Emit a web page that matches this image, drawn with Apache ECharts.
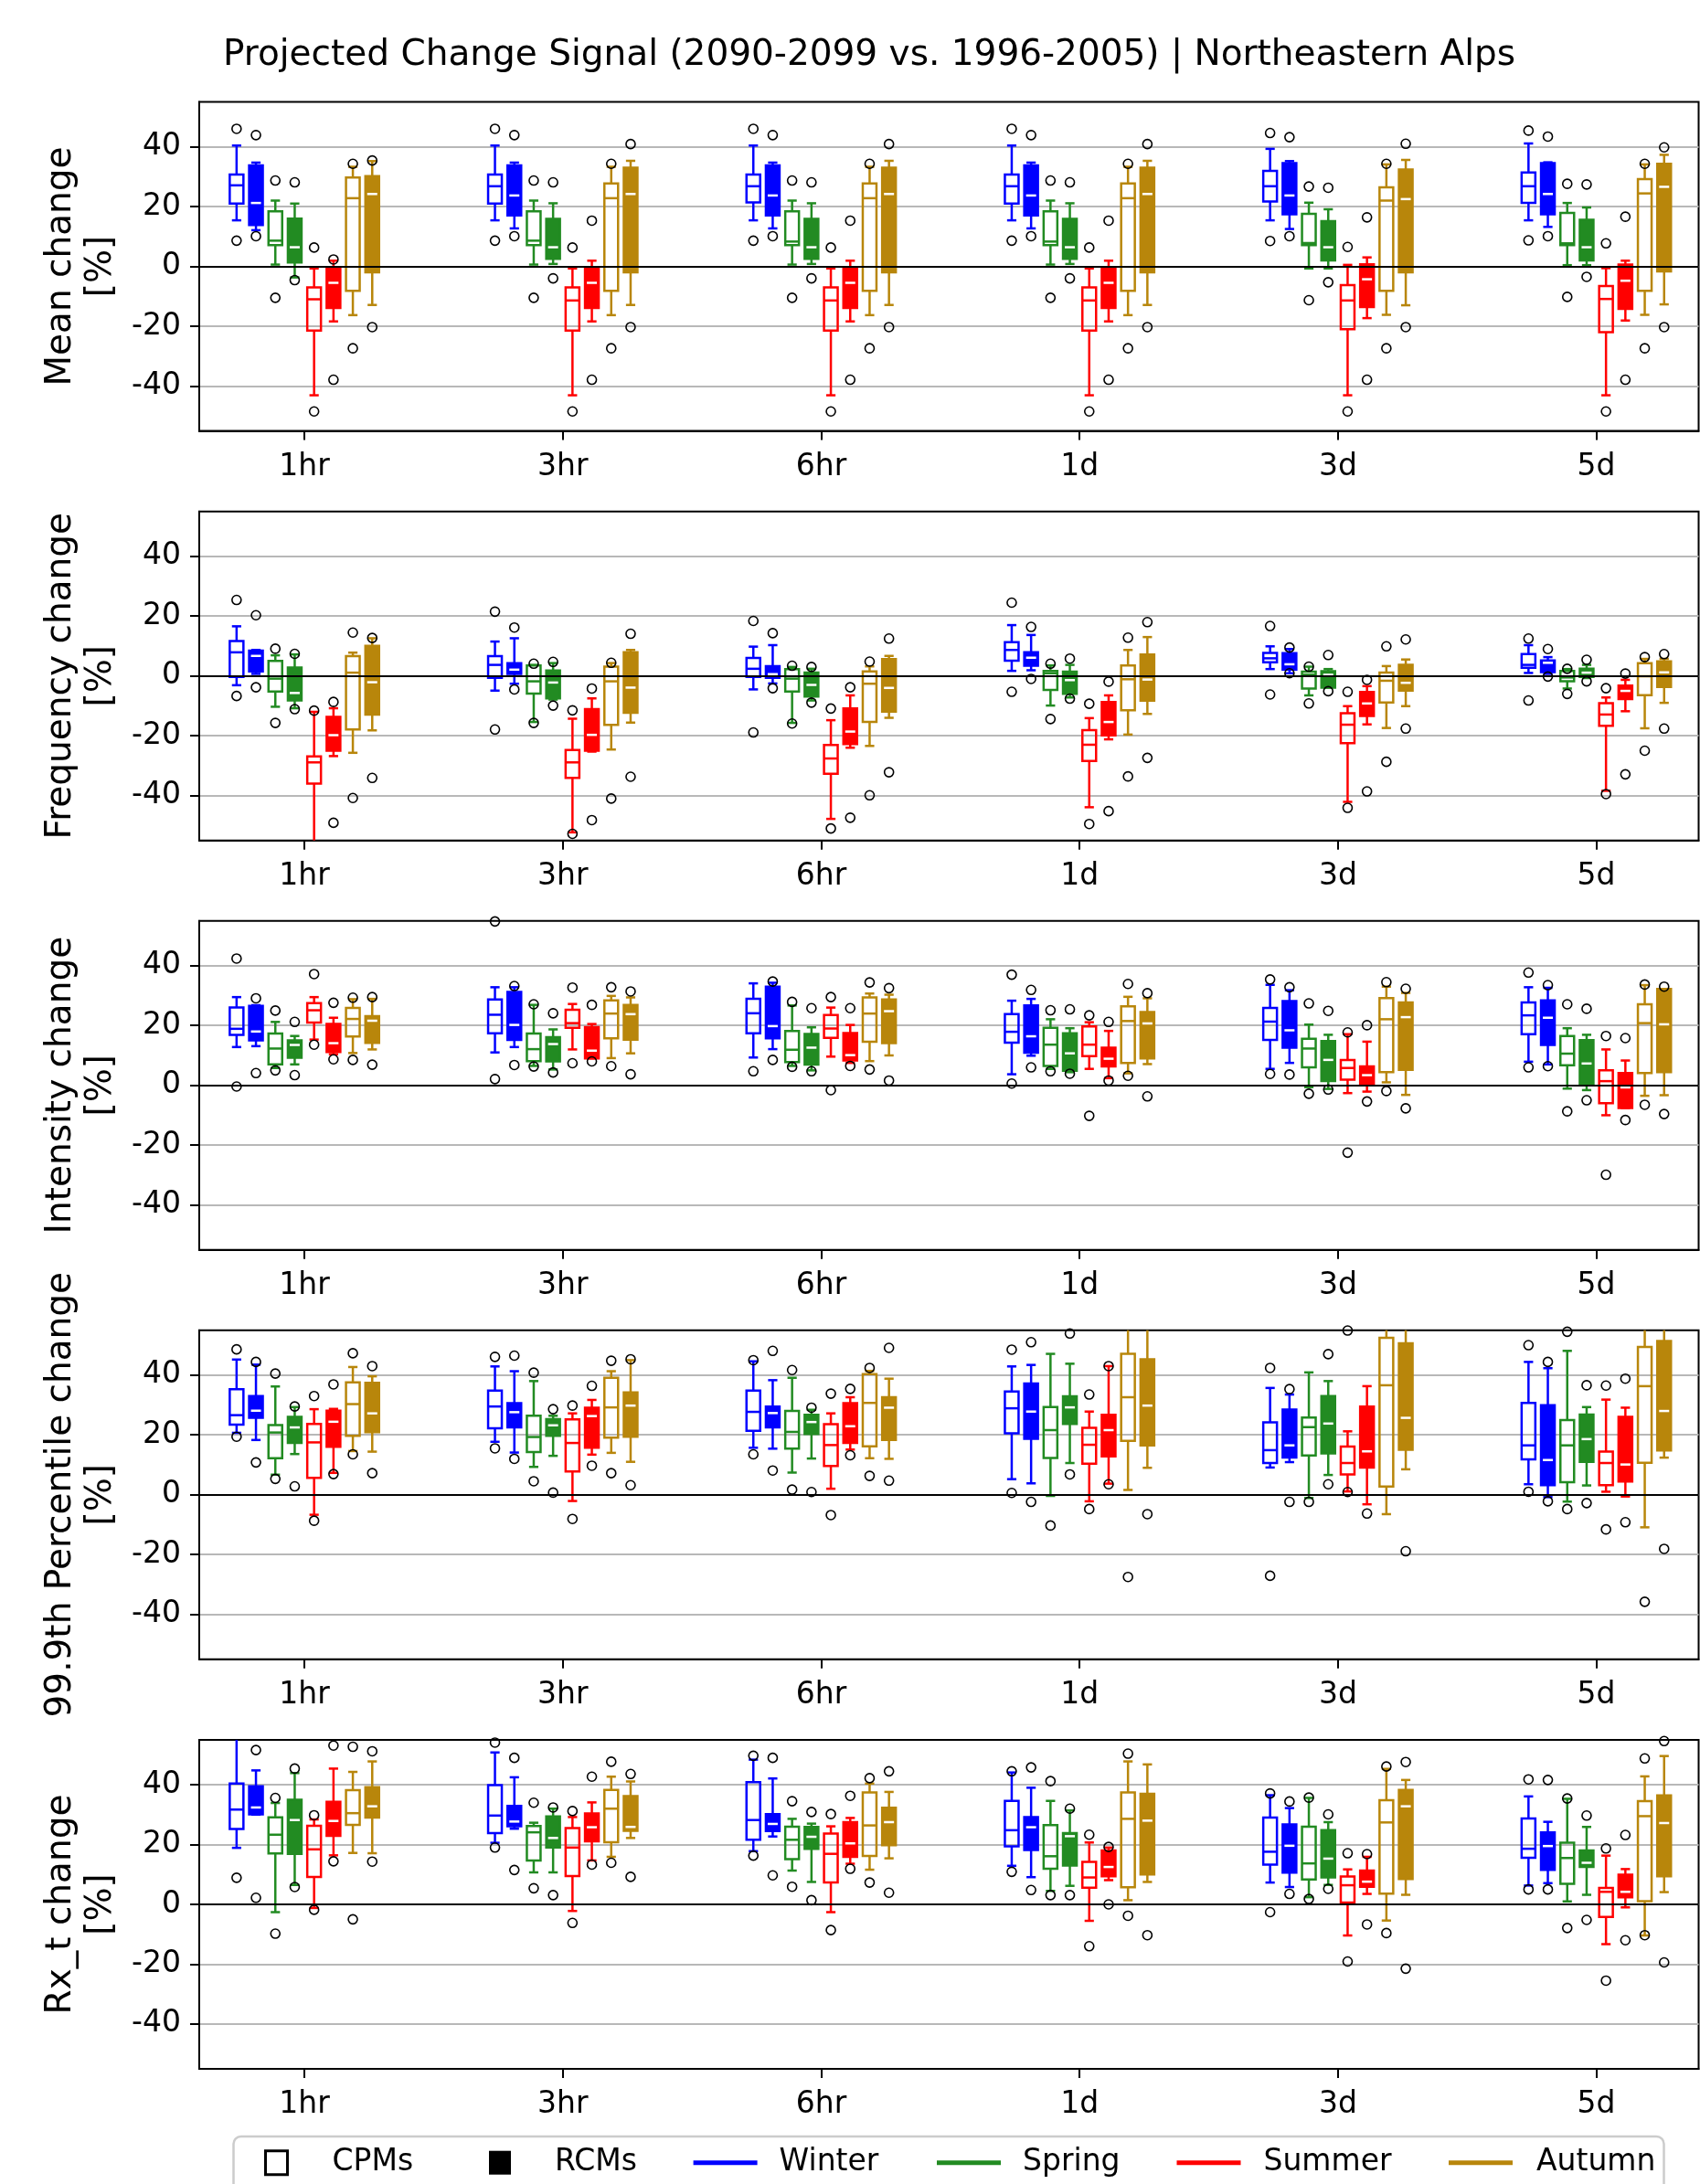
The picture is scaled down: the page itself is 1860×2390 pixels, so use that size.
<!DOCTYPE html>
<html>
<head>
<meta charset="utf-8">
<script src="https://cdn.jsdelivr.net/npm/echarts@6/dist/echarts.min.js"></script>
<style>html,body{margin:0;padding:0;background:#fff;}#chart{width:1860px;height:2390px;}</style>
</head>
<body>
<div id="chart"></div>
<script>
// ---------------- DATA ----------------
const TITLE = 'Projected Change Signal (2090-2099 vs. 1996-2005) | Northeastern Alps';
const DURATIONS = ['1hr', '3hr', '6hr', '1d', '3d', '5d'];
const SEASONS = ['Winter', 'Spring', 'Summer', 'Autumn'];
const MODELS = ['CPMs', 'RCMs'];
const Y_TICKS = [-40, -20, 0, 20, 40];
const Y_LABELS = ['Mean change\n[%]', 'Frequency change\n[%]', 'Intensity change\n[%]', '99.9th Percentile change\n[%]', 'Rx_t change\n[%]'];
// each row (one per duration): [whisker low, q1, median, q3, whisker high, ...outliers]

// Mean change
const mean_cpm_winter = [[15.4,21.0,27.1,30.7,40.4,46.0,8.6],[15.4,21.0,26.8,30.7,40.4,46.0,8.6],[15.4,21.4,26.8,30.7,40.4,46.0,8.6],[15.4,21.0,26.8,30.7,40.4,46.0,8.6],[15.4,21.7,26.8,31.9,39.3,44.6,8.5],[15.4,21.2,26.8,31.4,41.1,45.4,8.7]];
const mean_rcm_winter = [[12.1,13.8,21.2,33.8,34.7,43.9,10.1],[12.7,17.0,23.7,33.8,34.7,43.9,10.1],[12.7,17.0,23.7,33.8,34.7,43.9,10.1],[12.7,17.0,23.7,33.8,34.7,43.9,10.1],[12.5,17.4,23.7,34.5,35.2,43.2,10.1],[13.2,17.4,24.2,34.5,34.8,43.4,10.1]];
const mean_cpm_spring = [[0.6,7.1,8.6,18.4,22.0,28.7,-10.5],[0.6,7.1,8.6,18.4,22.0,28.7,-10.5],[0.6,7.1,8.3,18.4,22.0,28.7,-10.5],[0.6,7.1,8.3,18.4,22.0,28.7,-10.5],[-0.7,7.1,7.8,17.6,21.3,26.7,-11.3],[0.4,7.1,7.7,17.9,21.2,27.6,-10.2]];
const mean_rcm_spring = [[-3.7,1.3,6.4,16.0,21.0,28.1,-4.6],[0.8,2.5,6.4,15.9,21.1,28.1,-4.0],[0.8,2.5,6.4,15.9,21.1,28.1,-4.0],[0.8,2.5,6.4,15.9,21.1,28.1,-4.0],[-0.7,2.0,6.4,15.1,19.1,26.3,-5.3],[0.4,2.0,6.4,15.6,19.7,27.4,-3.5]];
const mean_cpm_summer = [[-43.1,-21.5,-11.0,-7.0,-0.7,6.3,-48.5],[-43.1,-21.5,-11.4,-7.0,-0.7,6.3,-48.5],[-43.1,-21.5,-11.4,-7.0,-0.7,6.3,-48.5],[-43.1,-21.5,-11.4,-7.0,-0.7,6.3,-48.5],[-43.1,-21.0,-11.4,-6.3,0.5,6.5,-48.5],[-43.1,-22.0,-10.9,-6.6,-0.6,7.7,-48.5]];
const mean_rcm_summer = [[-18.4,-13.9,-5.5,-0.2,1.9,2.3,-37.9],[-18.4,-13.9,-5.5,-0.2,1.9,15.3,-37.9],[-18.4,-13.9,-5.5,-0.2,1.9,15.3,-37.9],[-18.4,-13.9,-5.5,-0.2,1.9,15.3,-37.9],[-17.3,-13.6,-4.3,0.7,3.0,16.4,-37.9],[-18.1,-14.2,-4.8,0.6,1.9,16.6,-37.9]];
const mean_cpm_autumn = [[-16.3,-8.2,22.8,29.7,33.3,34.3,-27.4],[-16.3,-8.2,22.8,27.7,33.3,34.3,-27.4],[-16.3,-8.2,22.8,27.7,33.3,34.3,-27.4],[-16.3,-8.2,22.8,27.7,33.3,34.3,-27.4],[-16.2,-8.2,22.0,26.4,34.1,34.3,-27.4],[-16.2,-8.2,24.4,29.2,34.1,34.3,-27.4]];
const mean_rcm_autumn = [[-12.9,-2.0,24.2,30.2,35.2,35.4,-20.3],[-12.9,-2.0,24.2,33.0,35.3,40.9,-20.3],[-12.9,-2.0,24.2,33.0,35.3,40.9,-20.3],[-12.9,-2.0,24.2,33.0,35.3,40.9,-20.3],[-13.0,-2.0,22.5,32.4,35.6,41.0,-20.3],[-12.7,-1.7,26.6,34.3,37.3,39.8,-20.3]];

// Frequency change
const freq_cpm_winter = [[-3.1,-0.3,7.9,11.7,16.6,25.4,-6.7],[-4.9,-0.6,3.7,6.6,11.5,21.5,-17.9],[-4.5,-0.3,2.4,6.0,9.8,18.4,-18.9],[1.7,5.1,8.7,11.3,17.0,24.5,-5.3],[2.3,4.6,5.9,7.7,9.9,16.7,-6.2],[1.0,2.7,3.7,7.3,10.3,12.5,-8.2]];
const freq_rcm_winter = [[0.7,1.5,6.7,8.5,8.7,20.3,-3.8],[-2.6,0.7,2.1,4.3,12.6,16.2,-4.5],[-2.5,-0.6,0.6,3.3,10.3,14.3,-4.1],[1.9,3.4,6.1,7.9,13.7,16.4,-1.0],[0.9,2.1,3.9,7.6,9.0,9.5,0.9],[0.7,1.3,4.4,5.2,6.3,9.0,-0.2]];
const freq_cpm_spring = [[-10.3,-5.2,-0.9,5.0,6.9,9.1,-15.7],[-15.4,-5.9,-1.8,3.5,3.7,4.1,-15.7],[-15.7,-5.2,-0.9,2.3,3.0,3.4,-15.9],[-9.9,-4.7,0.9,1.7,3.5,4.1,-14.4],[-6.5,-4.2,0.4,1.4,3.1,3.1,-9.2],[-4.2,-1.8,-0.5,1.7,2.3,2.4,-6.0]];
const freq_rcm_spring = [[-10.8,-8.2,-5.7,2.8,7.2,7.4,-11.1],[-7.9,-7.5,-2.2,1.8,4.3,4.7,-9.9],[-8.2,-6.9,-3.0,1.1,2.4,3.0,-8.9],[-7.2,-6.0,-1.4,1.4,3.7,5.8,-7.6],[-3.9,-3.9,0.4,1.6,2.3,7.0,-5.1],[-0.7,-0.3,1.1,2.4,3.7,5.4,-1.8]];
const freq_cpm_summer = [[-58.0,-36.0,-28.9,-26.9,-12.0,-11.6],[-52.3,-34.1,-28.9,-24.8,-14.3,-11.5,-52.8],[-47.8,-32.7,-27.6,-23.1,-14.8,-10.9,-51.0],[-43.9,-28.4,-23.0,-18.1,-14.1,-9.3,-49.5],[-42.1,-22.5,-16.3,-12.5,-10.1,-5.3,-44.1],[-38.4,-16.7,-12.9,-9.1,-7.2,-4.1,-39.5]];
const freq_rcm_summer = [[-26.8,-25.0,-19.8,-13.7,-10.8,-8.7,-49.1],[-25.3,-25.0,-19.7,-11.1,-7.5,-4.2,-48.2],[-24.0,-22.8,-18.6,-10.9,-6.5,-3.8,-47.4],[-21.2,-19.9,-15.4,-8.7,-6.5,-1.9,-45.2],[-16.2,-13.4,-9.2,-5.4,-3.4,-1.3,-38.6],[-11.8,-7.7,-5.0,-3.2,-1.3,0.8,-32.9]];
const freq_cpm_autumn = [[-25.7,-17.9,1.1,6.6,7.8,14.5,-40.8],[-24.6,-16.4,-1.8,3.1,4.3,4.4,-41.0],[-23.4,-15.4,-2.6,1.5,3.2,4.8,-39.9],[-19.6,-11.5,-1.1,3.5,8.7,12.8,-33.6],[-17.4,-8.9,-1.6,1.1,3.3,9.9,-28.7],[-17.5,-6.4,-0.1,4.3,5.7,6.3,-25.0]];
const freq_rcm_autumn = [[-18.2,-12.9,-2.1,10.1,12.6,12.7,-34.1],[-15.6,-12.3,-3.9,7.9,8.7,14.1,-33.7],[-14.0,-11.9,-4.0,5.6,6.7,12.5,-32.2],[-12.7,-8.3,-1.2,7.2,13.0,18.0,-27.4],[-10.1,-4.9,-2.3,3.7,5.5,12.2,-17.6],[-9.0,-3.7,1.2,4.9,5.7,7.3,-17.6]];

// Intensity change
const int_cpm_winter = [[12.8,16.9,18.9,26.0,29.5,42.4,-0.4],[11.0,17.4,23.6,28.7,32.8,54.8,2.1],[9.3,17.4,24.1,28.9,34.1,4.7],[3.7,14.3,17.9,23.8,28.3,37.0,0.6],[5.5,15.2,21.3,25.9,33.6,35.4,3.8],[7.9,17.1,23.4,27.7,32.8,37.7,6.0]];
const int_rcm_winter = [[13.1,15.0,18.0,26.6,26.8,29.1,4.1],[12.8,15.2,20.2,31.2,32.8,33.2,6.8],[12.1,15.7,19.8,33.0,34.3,34.7,8.5],[9.9,10.9,16.4,26.7,28.9,31.9,6.0],[7.5,12.6,18.4,28.2,31.8,32.8,3.6],[7.0,13.5,22.6,28.4,32.6,33.5,6.4]];
const int_cpm_spring = [[5.8,7.0,12.3,17.3,21.2,25.0,5.0],[6.5,8.1,12.1,17.3,26.9,27.1,6.3],[6.5,7.8,11.9,18.2,26.7,27.9,6.2],[5.5,6.5,13.6,19.2,22.1,25.1,4.7],[-0.6,6.0,12.3,15.6,20.3,27.4,-2.8],[-1.1,6.7,10.6,16.5,19.1,27.1,-8.7]];
const int_rcm_spring = [[7.0,9.2,13.5,15.0,16.5,21.2,3.4],[5.3,8.0,13.8,16.1,18.7,24.1,4.3],[5.0,6.9,12.6,17.2,19.4,25.8,4.7],[4.4,4.9,10.7,17.4,19.1,25.4,3.9],[-1.2,1.4,8.5,14.8,16.9,24.9,-1.4],[-1.6,0.6,7.3,15.1,16.9,25.6,-5.0]];
const int_cpm_summer = [[15.3,21.0,25.1,27.5,29.5,37.2,13.6],[12.0,19.2,20.8,25.3,27.2,32.7,7.4],[9.6,15.9,19.0,23.5,26.0,29.5,-1.6],[5.5,9.8,13.6,19.7,21.1,23.4,-10.2],[-2.6,1.9,5.8,8.5,17.1,17.7,-22.5],[-10.0,-6.0,1.4,5.0,12.0,16.5,-29.9]];
const int_rcm_summer = [[10.4,11.1,14.1,20.5,22.6,27.6,8.7],[9.0,9.0,11.6,19.5,20.5,26.9,8.0],[7.5,8.3,10.1,17.5,20.2,25.8,6.5],[2.4,6.3,8.9,12.6,18.2,21.2,1.6],[-2.1,0.6,3.4,6.3,14.6,20.1,-5.4],[-7.6,-7.6,-0.7,4.1,8.3,15.8,-11.6]];
const int_cpm_autumn = [[10.8,16.3,22.2,25.9,28.8,29.3,8.5],[9.1,15.7,24.0,28.4,29.9,32.8,6.4],[8.1,14.6,24.0,29.4,30.7,34.4,5.3],[4.0,7.5,21.5,26.4,29.6,33.9,3.2],[1.0,4.4,22.1,29.2,33.0,34.5,-1.9],[-3.5,4.1,20.8,27.1,33.5,33.7,-6.5]];
const int_rcm_autumn = [[12.0,14.2,21.6,23.1,28.9,29.5,6.9],[10.7,15.3,23.8,26.9,29.4,31.4,3.7],[10.0,14.1,24.8,28.7,30.3,32.5,1.6],[7.1,9.0,20.7,24.5,29.1,30.8,-3.7],[-3.2,5.2,22.8,27.7,30.9,32.3,-7.7],[-3.3,4.4,20.4,32.2,32.2,33.0,-9.6]];

// 99.9th percentile change
const p999_cpm_winter = [[20.7,23.4,26.6,35.3,45.2,48.6,19.4],[17.7,22.2,29.5,34.8,42.9,46.1,15.5],[15.7,21.4,27.7,34.8,44.6,45.0,13.5],[5.2,20.5,28.9,34.5,42.9,48.5,0.6],[9.1,10.6,14.9,24.2,35.7,42.4,-27.1],[3.5,11.8,16.5,30.7,44.4,50.0,1.0]];
const p999_rcm_winter = [[18.3,25.7,28.1,33.0,43.5,44.4,10.8],[14.1,22.5,27.6,30.6,41.3,46.5,12.0],[15.4,22.5,27.3,29.5,38.3,48.1,8.1],[3.8,18.7,27.8,37.2,43.4,51.0,-2.4],[10.9,12.4,16.5,28.5,33.5,35.3,-2.4],[-0.8,3.2,11.6,29.9,42.3,44.4,-2.2]];
const p999_cpm_spring = [[6.7,12.2,20.8,23.3,36.2,40.5,5.3],[9.3,14.3,19.3,26.4,38.0,40.8,4.5],[7.4,15.4,21.0,28.0,39.1,41.7,1.7],[-0.4,12.3,21.6,29.3,47.1,-10.3],[-1.1,13.1,22.6,25.8,40.9,-2.4],[-2.3,4.2,16.5,25.0,48.1,54.5,-4.8]];
const p999_rcm_spring = [[13.6,17.3,22.5,26.0,29.3,29.5,2.8],[13.0,19.7,23.2,25.3,26.4,28.6,0.7],[12.1,20.3,24.3,26.7,28.4,29.1,0.9],[10.6,23.7,29.2,32.9,43.8,53.9,6.8],[6.6,13.8,23.8,33.0,38.0,47.0,3.5],[3.1,11.0,18.6,26.8,29.3,36.6,-2.8]];
const p999_cpm_summer = [[-6.7,5.6,17.5,23.7,28.6,33.0,-8.7],[-2.1,7.8,17.3,25.2,27.2,29.8,-8.1],[2.0,9.6,16.6,23.6,27.2,33.8,-6.8],[-2.2,10.4,16.7,22.4,27.8,33.5,-4.8],[1.1,6.8,10.6,16.1,21.2,54.9,0.9],[1.0,3.2,10.6,14.4,31.8,36.5,-11.6]];
const p999_rcm_summer = [[7.3,16.0,24.4,28.1,28.7,36.9,6.9],[13.4,15.7,26.3,29.1,31.7,36.4,9.7],[15.1,17.3,22.9,30.6,32.6,35.4,13.2],[3.7,12.8,21.6,26.7,43.0,43.0,3.5],[-3.2,9.1,14.5,29.5,36.3,-6.3],[-0.6,4.4,10.1,26.0,29.1,38.8,-9.2]];
const p999_cpm_autumn = [[14.6,19.7,30.3,37.6,42.7,47.3,13.5],[14.0,19.1,29.2,39.1,41.3,44.8,7.2],[12.2,16.2,30.7,40.3,41.4,42.4,6.3],[1.6,18.0,32.6,47.1,60.0,-27.5],[-6.5,2.7,36.6,52.5,60.0],[-10.9,10.7,36.3,49.4,60.0,-35.8]];
const p999_rcm_autumn = [[14.4,20.9,27.2,37.4,39.6,43.0,7.2],[11.0,19.4,29.8,34.2,45.0,45.3,3.2],[12.0,18.3,29.1,32.6,38.8,49.1,4.7],[9.0,16.5,29.8,45.3,60.0,-6.5],[8.5,15.0,25.7,50.6,60.0,-18.9],[12.4,14.8,28.0,51.4,60.0,-18.1]];

// Rx_t change
const rx_cpm_winter = [[18.9,25.2,31.7,40.4,58.0,8.9],[20.6,23.8,29.7,39.9,50.8,54.1,19.0],[17.8,21.6,28.2,40.9,48.4,49.7,16.3],[12.9,19.4,24.8,34.6,44.1,44.5,10.9],[7.3,13.3,17.6,29.0,36.5,37.1,-2.6],[6.3,15.6,18.6,28.7,36.1,41.8,5.0]];
const rx_rcm_winter = [[30.0,30.1,32.4,39.5,44.8,51.6,2.2],[25.3,26.1,27.7,32.9,42.5,49.0,11.5],[22.7,24.5,26.9,30.2,42.1,49.0,9.7],[9.1,18.2,25.8,29.2,39.0,45.8,4.8],[5.8,10.6,19.6,26.7,32.2,34.4,3.5],[7.1,11.5,19.5,24.1,27.6,41.6,5.0]];
const rx_cpm_spring = [[-2.6,17.0,23.3,29.1,33.9,35.6,-9.8],[10.7,14.7,24.1,26.2,27.3,34.0,5.4],[11.3,15.1,21.6,26.0,28.6,34.5,5.9],[4.5,11.9,16.1,26.5,34.6,41.2,3.1],[2.4,8.3,13.7,26.0,35.6,35.7,1.8],[1.0,6.9,15.5,20.6,35.3,35.4,-7.9]];
const rx_rcm_spring = [[6.5,16.9,28.2,35.0,43.9,45.4,5.8],[10.7,19.0,22.2,29.4,32.0,32.4,3.1],[7.5,18.6,22.6,25.9,27.0,30.9,1.4],[6.2,13.0,22.8,23.8,31.4,32.0,3.1],[6.5,9.0,15.3,24.8,27.5,30.1,5.2],[3.2,12.5,13.9,18.0,25.9,29.7,-5.2]];
const rx_cpm_summer = [[-1.2,9.2,18.4,26.3,28.4,29.8,-1.8],[-2.2,9.5,19.0,25.5,29.2,31.2,-6.2],[-2.6,7.3,16.9,23.7,26.1,30.2,-8.6],[-5.5,5.6,9.0,14.2,20.7,23.3,-14.0],[-10.4,0.6,6.4,9.3,11.7,17.1,-19.1],[-13.3,-4.2,4.2,5.5,16.3,18.7,-25.5]];
const rx_rcm_summer = [[16.4,22.9,27.9,34.3,45.4,53.1,14.4],[14.7,21.1,25.8,30.4,34.1,42.7,13.3],[13.6,15.9,20.4,27.5,28.9,36.3,11.9],[8.1,9.4,12.5,18.0,19.0,19.2,0.0],[3.5,5.9,7.6,11.3,15.9,16.8,-6.7],[-1.0,2.4,4.2,9.9,11.8,23.2,-12.0]];
const rx_cpm_autumn = [[17.2,26.6,30.5,38.2,44.3,52.7,-5.0],[15.9,20.8,32.0,38.3,42.7,47.7,13.9],[11.6,16.2,26.4,37.4,40.4,42.2,7.3],[1.4,5.7,28.6,37.4,47.8,50.4,-3.8],[-5.4,3.6,27.4,34.8,45.3,46.1,-9.6],[-10.4,1.1,29.5,34.5,42.8,48.8,-10.3]];
const rx_rcm_autumn = [[17.1,29.0,32.8,39.2,47.8,51.2,14.3],[22.2,24.6,25.9,36.2,41.1,43.6,9.2],[15.4,19.8,27.5,32.3,37.6,44.5,3.9],[7.5,10.0,28.0,37.0,46.8,-10.3],[3.2,8.5,32.8,38.3,41.6,47.6,-21.5],[4.1,9.4,27.2,36.4,49.6,54.6,-19.4]];

// ---------------- STYLE / LAYOUT ----------------
const FONT = 'DejaVu Sans';
const COLORS = ['#0000ff', '#228b22', '#ff0000', '#b8860b'];
const OFFSETS = [-0.2625, -0.1875, -0.1125, -0.0375, 0.0375, 0.1125, 0.1875, 0.2625];
const BOX_W = 0.053, CAP_W = 0.036, LW = 2.5;
const TOPS = [111.5, 559.7, 1007.7, 1455.7, 1904];
const PANEL_BOXES = [
  [mean_cpm_winter, mean_rcm_winter, mean_cpm_spring, mean_rcm_spring, mean_cpm_summer, mean_rcm_summer, mean_cpm_autumn, mean_rcm_autumn],
  [freq_cpm_winter, freq_rcm_winter, freq_cpm_spring, freq_rcm_spring, freq_cpm_summer, freq_rcm_summer, freq_cpm_autumn, freq_rcm_autumn],
  [int_cpm_winter, int_rcm_winter, int_cpm_spring, int_rcm_spring, int_cpm_summer, int_rcm_summer, int_cpm_autumn, int_rcm_autumn],
  [p999_cpm_winter, p999_rcm_winter, p999_cpm_spring, p999_rcm_spring, p999_cpm_summer, p999_rcm_summer, p999_cpm_autumn, p999_rcm_autumn],
  [rx_cpm_winter, rx_rcm_winter, rx_cpm_spring, rx_rcm_spring, rx_cpm_summer, rx_rcm_summer, rx_cpm_autumn, rx_rcm_autumn]
];

function makeRender(color, filled) {
  return function (params, api) {
    const cs = params.coordSys;
    const top = cs.y, bot = cs.y + cs.height;
    const clampY = y => Math.max(top, Math.min(bot, y));
    const x = api.value(0);
    const cx = api.coord([x, 0])[0];
    const yv = i => api.coord([x, api.value(i)])[1];
    const yLo = yv(1), yQ1 = yv(2), yMed = yv(3), yQ3 = yv(4), yHi = yv(5);
    const bw = api.size([BOX_W, 0])[0];
    const cw = api.size([CAP_W, 0])[0];
    const st = {stroke: color, lineWidth: LW};
    const ch = [];
    ch.push({type: 'line', shape: {x1: cx, y1: clampY(yQ3), x2: cx, y2: clampY(yHi)}, style: st});
    ch.push({type: 'line', shape: {x1: cx, y1: clampY(yQ1), x2: cx, y2: clampY(yLo)}, style: st});
    if (yHi >= top && yHi <= bot) ch.push({type: 'line', shape: {x1: cx - cw / 2, y1: yHi, x2: cx + cw / 2, y2: yHi}, style: st});
    if (yLo >= top && yLo <= bot) ch.push({type: 'line', shape: {x1: cx - cw / 2, y1: yLo, x2: cx + cw / 2, y2: yLo}, style: st});
    const bt = clampY(yQ3), bb = clampY(yQ1);
    ch.push({type: 'rect', shape: {x: cx - bw / 2, y: bt, width: bw, height: bb - bt},
      style: {fill: filled ? color : 'none', stroke: color, lineWidth: LW}});
    const inset = filled ? 2 : 0;
    if (yMed >= top && yMed <= bot) ch.push({type: 'line', shape: {x1: cx - bw / 2 + inset, y1: yMed, x2: cx + bw / 2 - inset, y2: yMed},
      style: {stroke: filled ? '#ffffff' : color, lineWidth: LW}});
    return {type: 'group', children: ch};
  };
}

const grids = [], xAxes = [], yAxes = [], series = [];
PANEL_BOXES.forEach((boxes, p) => {
  grids.push({left: 218, top: TOPS[p], width: 1640.5, height: 360, show: true, borderColor: '#000', borderWidth: 2,
    backgroundColor: 'transparent', containLabel: false, outerBoundsMode: 'none'});
  xAxes.push({gridIndex: p, type: 'value', min: -0.407, max: 5.396,
    axisLine: {show: true, onZero: false, lineStyle: {color: '#000', width: 2}},
    splitLine: {show: false},
    axisTick: {show: true, customValues: [0, 1, 2, 3, 4, 5], length: 10, lineStyle: {color: '#000', width: 2}},
    axisLabel: {show: true, customValues: [0, 1, 2, 3, 4, 5], formatter: v => DURATIONS[Math.round(v)], fontSize: 33, color: '#000', fontFamily: FONT, margin: 23}});
  yAxes.push({gridIndex: p, type: 'value', min: -55, max: 55,
    name: Y_LABELS[p], nameLocation: 'middle', nameRotate: 90, nameGap: 77,
    nameTextStyle: {fontSize: 39, lineHeight: 44, color: '#000', fontFamily: FONT, align: 'center'},
    axisLine: {show: true, onZero: false, lineStyle: {color: '#000', width: 2}},
    axisTick: {show: true, customValues: Y_TICKS, length: 10, lineStyle: {color: '#000', width: 2}},
    axisLabel: {show: true, customValues: Y_TICKS, fontSize: 33, color: '#000', fontFamily: FONT, margin: 20},
    splitLine: {show: true, lineStyle: {color: '#b8b8b8', width: 2.2}}});
  const outliers = [];
  boxes.forEach((rows, k) => {
    const color = COLORS[Math.floor(k / 2)];
    const filled = k % 2 === 1;
    const data = rows.map((r, g) => [g + OFFSETS[k], r[0], r[1], r[2], r[3], r[4]]);
    rows.forEach((r, g) => r.slice(5).forEach(v => outliers.push([g + OFFSETS[k], v])));
    series.push({type: 'custom', name: SEASONS[Math.floor(k / 2)] + ' ' + MODELS[k % 2], xAxisIndex: p, yAxisIndex: p,
      data: data, dimensions: ['x', 'lo', 'q1', 'med', 'q3', 'hi'], encode: {x: 0, y: [1, 2, 3, 4, 5]},
      renderItem: makeRender(color, filled), silent: true, z: 2});
  });
  series.push({type: 'scatter', name: 'outliers' + p, xAxisIndex: p, yAxisIndex: p, data: outliers,
    symbol: 'circle', symbolSize: 10, clip: true, silent: true, z: 3,
    itemStyle: {color: 'rgba(0,0,0,0)', borderColor: '#000', borderWidth: 1.6, opacity: 1},
    markLine: {silent: true, symbol: ['none', 'none'], label: {show: false}, animation: false,
      lineStyle: {color: '#000', width: 2.2, type: 'solid'}, data: [{yAxis: 0}]}});
});

// legend-only series
series.push({type: 'scatter', name: 'CPMs', data: [], xAxisIndex: 0, yAxisIndex: 0, itemStyle: {color: '#fff', opacity: 1}});
series.push({type: 'scatter', name: 'RCMs', data: [], xAxisIndex: 0, yAxisIndex: 0, itemStyle: {color: '#000', opacity: 1}});
SEASONS.forEach((s, i) => series.push({type: 'line', name: s, data: [], xAxisIndex: 0, yAxisIndex: 0, symbol: 'none', showSymbol: false,
  lineStyle: {color: COLORS[i], width: 5}, itemStyle: {color: COLORS[i]}}));

const legTxt = pad => ({fontSize: 33, color: '#000', fontFamily: FONT, padding: [0, 0, 0, pad]});
const LEG_TOP = 2350.2;
const seasonLegend = (i, left, pad) => ({data: [{name: SEASONS[i], icon: 'rect', itemStyle: {color: COLORS[i], opacity: 1, borderWidth: 0}}],
  left: left, top: LEG_TOP, itemWidth: 70, itemHeight: 5, textStyle: legTxt(pad)});
const legends = [
  {data: [{name: 'CPMs', icon: 'rect', itemStyle: {color: '#ffffff', borderColor: '#000', borderWidth: 3, opacity: 1}}], left: 289, top: LEG_TOP, itemWidth: 24, itemHeight: 26, textStyle: legTxt(44)},
  {data: [{name: 'RCMs', icon: 'rect', itemStyle: {color: '#000000', borderColor: '#000', borderWidth: 0, opacity: 1}}], left: 535, top: LEG_TOP, itemWidth: 24, itemHeight: 26, textStyle: legTxt(43)},
  seasonLegend(0, 758.6, 19),
  seasonLegend(1, 1025, 19),
  seasonLegend(2, 1287.5, 20),
  seasonLegend(3, 1585, 21)
].map(l => Object.assign({padding: 0, selectedMode: false, orient: 'horizontal', z: 10, inactiveColor: '#000'}, l));

const option = {
  animation: false,
  backgroundColor: '#ffffff',
  textStyle: {fontFamily: FONT},
  title: {text: TITLE, left: 951, top: 41, textAlign: 'center', padding: 0,
    textStyle: {fontSize: 39, fontWeight: 'normal', color: '#000', fontFamily: FONT}},
  grid: grids, xAxis: xAxes, yAxis: yAxes, series: series, legend: legends,
  graphic: [{type: 'rect', z: 0, silent: true, shape: {x: 255.5, y: 2338, width: 1565, height: 80, r: 8},
    style: {fill: '#ffffff', stroke: '#cccccc', lineWidth: 2.5}}]
};
const chart = echarts.init(document.getElementById('chart'), null, {renderer: 'canvas', width: 1860, height: 2390});
chart.setOption(option);
</script>
</body>
</html>
